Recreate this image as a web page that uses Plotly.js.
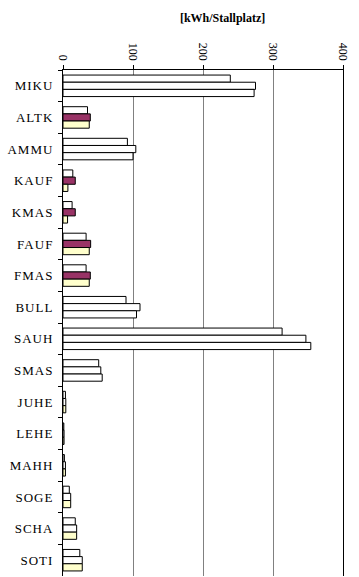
<!DOCTYPE html>
<html><head><meta charset="utf-8">
<script src="https://cdn.plot.ly/plotly-3.0.1.min.js"></script>
<style>html,body{margin:0;padding:0;background:#fff;}#chart{width:359px;height:577px;}
#chart .yaxislayer-above text{letter-spacing:1px;}</style>
</head><body><div id="chart"></div>
<script>
const categories = ["MIKU","ALTK","AMMU","KAUF","KMAS","FAUF","FMAS","BULL","SAUH","SMAS","JUHE","LEHE","MAHH","SOGE","SCHA","SOTI"];
const series1 = [239, 35, 92, 14, 13, 33, 33, 90, 313, 51, 3.5, 1.2, 2, 9, 17.5, 24];
const series2 = [275, 39, 104, 17.5, 17.5, 39.5, 39, 110, 347, 54, 4, 1.5, 3.5, 11, 19.5, 27.5];
const series3 = [273, 37.5, 100, 7, 6.5, 37.5, 37.5, 105, 354, 56, 4, 1.5, 3.5, 11, 19.5, 27.5];
const colors2 = ["#ffffff","#993366","#ffffff","#993366","#993366","#993366","#993366","#ffffff","#ffffff","#ffffff","#ffffff","#ffffff","#ffffff","#ffffff","#ffffff","#ffffff"];
const colors3 = ["#ffffff","#ffffcc","#ffffff","#ffffcc","#ffffcc","#ffffcc","#ffffcc","#ffffff","#ffffff","#ffffff","#ffffcc","#ffffcc","#ffffcc","#ffffcc","#ffffcc","#ffffcc"];
const xTicks = [0, 100, 200, 300, 400];
const titleText = "[kWh/Stallplatz]";

const line = {color: "#000000", width: 1};
const traces = [
  {type: "bar", orientation: "h", y: categories, x: series1, marker: {color: "#ffffff", line: line}},
  {type: "bar", orientation: "h", y: categories, x: series2, marker: {color: colors2, line: line}},
  {type: "bar", orientation: "h", y: categories, x: series3, marker: {color: colors3, line: line}}
];
const layout = {
  width: 359, height: 577,
  margin: {l: 63, r: 16, t: 70, b: 1, pad: 0},
  paper_bgcolor: "#ffffff", plot_bgcolor: "#ffffff",
  showlegend: false,
  barmode: "group", bargap: 0.32, bargroupgap: 0,
  font: {family: "Liberation Serif, Times New Roman, serif", color: "#000000"},
  title: {text: "<b>" + titleText + "</b>", font: {size: 12, family: "Liberation Serif, serif", color: "#000"}, x: 0.57, xanchor: "center", y: 0.97, yanchor: "middle", xref: "paper"},
  xaxis: {
    side: "top", range: [0, 400], tickvals: xTicks, ticktext: xTicks.map(String),
    tickangle: 90, tickfont: {size: 12}, ticks: "outside", ticklen: 4, tickcolor: "#000",
    showline: true, linecolor: "#000", linewidth: 1,
    showgrid: true, gridcolor: "#808080", gridwidth: 1, zeroline: false, fixedrange: true
  },
  yaxis: {
    type: "category", autorange: "reversed", tickfont: {size: 13},
    ticks: "outside", tickson: "boundaries", ticklen: 4, tickcolor: "#000",
    showline: true, linecolor: "#000", linewidth: 1, mirror: true,
    showgrid: false, zeroline: false, ticklabelstandoff: 6, fixedrange: true
  }
};
Plotly.newPlot("chart", traces, layout, {displayModeBar: false, staticPlot: true});
</script></body></html>
